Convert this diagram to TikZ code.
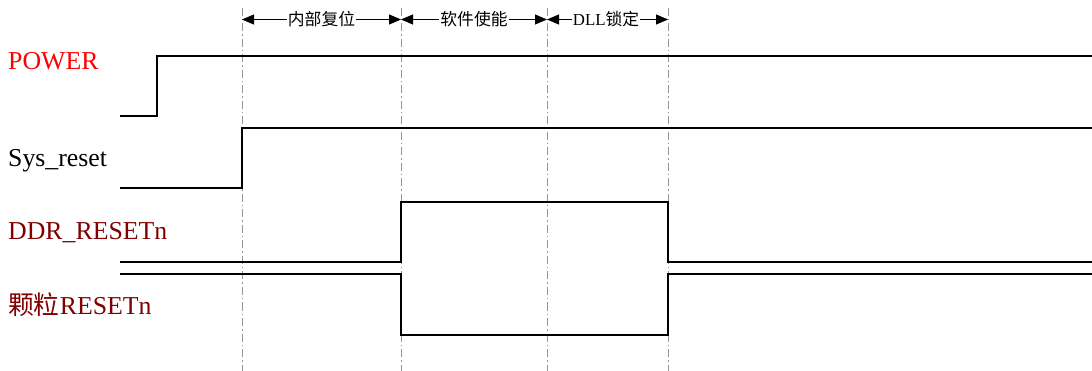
\documentclass[tikz,border=0pt]{standalone}
\usepackage{fontspec}
\setmainfont{Liberation Serif}
\newfontfamily\cjk{Noto Sans CJK SC}
\usetikzlibrary{arrows.meta}
\definecolor{darkred}{RGB}{128,0,0}
\definecolor{guide}{RGB}{150,150,150}
\tikzset{
  sig/.style={line width=2.2pt, line join=miter},
  guideline/.style={guide, line width=0.9pt, dash pattern=on 8pt off 3pt on 1.5pt off 3pt},
  lbl/.style={anchor=base west, inner sep=0pt, font=\fontsize{25.8}{28}\selectfont},
  phase/.style={inner sep=1pt, fill=white, font=\fontsize{16.8}{18}\selectfont},
  span/.style={line width=0.9pt, -{Triangle[length=12pt,width=10pt]}}
}
\begin{document}
\begin{tikzpicture}[x=1pt,y=-1pt]
\useasboundingbox (0,0) rectangle (1092,371);
% guide lines
\foreach \n/\x in {ga/242,gb/401,gc/547,gd/668}{
  \coordinate (\n top) at (\x,8);
  \coordinate (\n bot) at (\x,371);
  \draw[guideline] (\n top) -- (\n bot);
}
% phase labels
\node[phase] (p1) at (321.5,19.5) {\cjk 内部复位};
\node[phase] (p2) at (474,19.5) {\cjk 软件使能};
\node[phase] (p3) at (606,19.5) {DLL{\cjk 锁定}};
\coordinate (a1) at (242,19.5); \coordinate (a2) at (401,19.5);
\coordinate (a3) at (547,19.5); \coordinate (a4) at (668,19.5);
\draw[span] (p1.west) -- (a1);
\draw[span] (p1.east) -- (a2);
\draw[span] (p2.west) -- (a2);
\draw[span] (p2.east) -- (a3);
\draw[span] (p3.west) -- (a3);
\draw[span] (p3.east) -- (a4);
% signal labels
\node[lbl, text=red] (lpower) at (8,70) {POWER};
\node[lbl] (lsys) at (8,167) {Sys\_reset};
\node[lbl, text=darkred] (lddr) at (8,240) {DDR\_RESETn};
\node[lbl, text=darkred] (lchip) at (8,314) {{\cjk 颗粒}RESETn};
% waveforms
\draw[sig] (120,116) -- (157,116) -- (157,56) -- (1092,56);
\draw[sig] (120,188) -- (242,188) -- (242,128) -- (1092,128);
\draw[sig] (120,262) -- (401,262) -- (401,202) -- (668,202) -- (668,262) -- (1092,262);
\draw[sig] (120,274) -- (401,274) -- (401,335) -- (668,335) -- (668,274) -- (1092,274);
\end{tikzpicture}
\end{document}
